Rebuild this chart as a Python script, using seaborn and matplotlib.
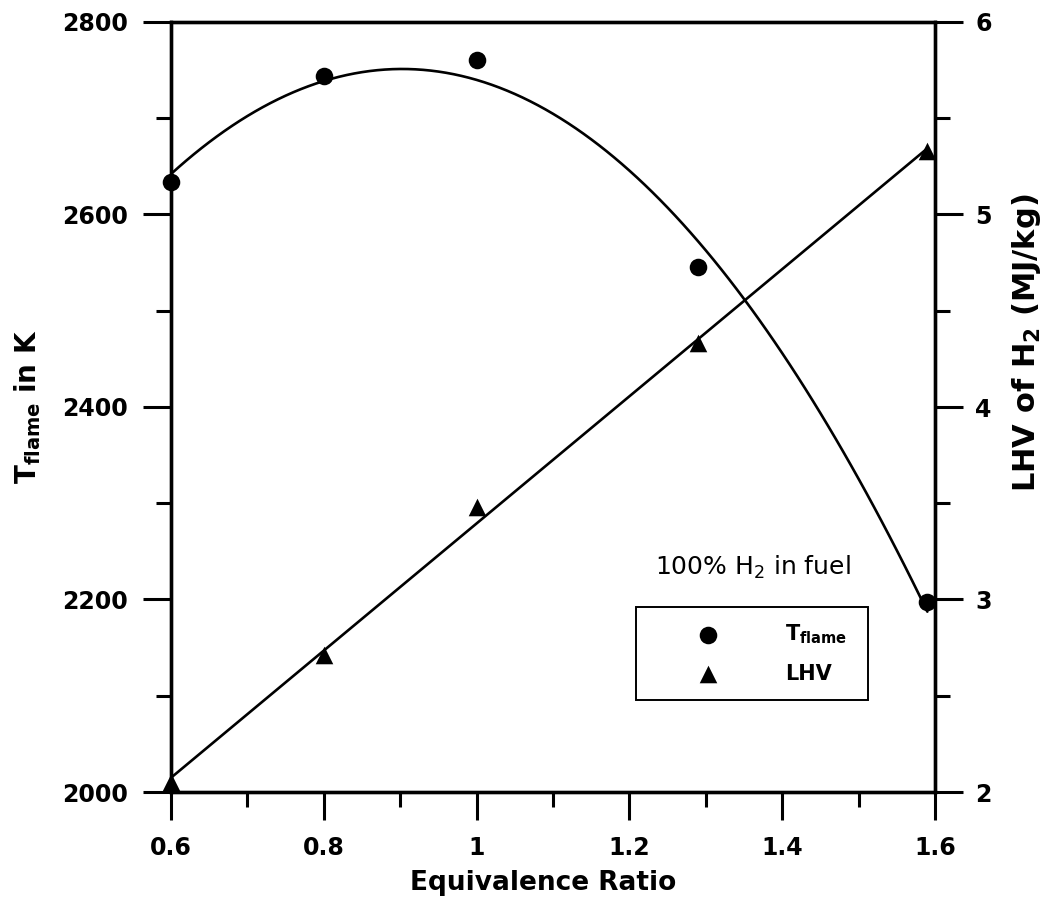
import numpy as np
import matplotlib
matplotlib.use("Agg")
import matplotlib.pyplot as plt
import matplotlib.ticker as mticker
import seaborn as sns

# Equivalence ratio and measured quantities
phi = [0.6, 0.8, 1.0, 1.29, 1.59]
t_flame = [2634, 2744, 2760, 2545, 2197]   # K
lhv = [2.05, 2.71, 3.48, 4.33, 5.33]       # MJ/kg

x_ticks = [0.6, 0.8, 1.0, 1.2, 1.4, 1.6]
x_tick_labels = ["0.6", "0.8", "1", "1.2", "1.4", "1.6"]
t_ticks = [2000, 2200, 2400, 2600, 2800]
lhv_ticks = [2, 3, 4, 5, 6]

sns.set_theme(style="white")
plt.rcParams["font.family"] = ["DejaVu Sans"]
plt.rcParams["mathtext.fontset"] = "dejavusans"
for key in ("text.color", "axes.labelcolor", "xtick.color", "ytick.color",
            "axes.edgecolor"):
    plt.rcParams[key] = "black"

fig = plt.figure(figsize=(10.47, 9.05), dpi=100)
ax = fig.add_axes([171 / 1047, 1 - 792 / 905, 764 / 1047, 770 / 905])
ax2 = ax.twinx()

# Flame temperature with a quadratic trend, LHV with a linear trend
sns.regplot(x=phi, y=t_flame, order=2, ci=None, truncate=True, ax=ax,
            marker="o", color="black",
            scatter_kws=dict(s=160, alpha=1, linewidths=0, zorder=3, clip_on=False),
            line_kws=dict(color="black", lw=1.9))
sns.regplot(x=phi, y=lhv, order=1, ci=None, truncate=True, ax=ax2,
            marker="^", color="black",
            scatter_kws=dict(s=160, alpha=1, linewidths=0, zorder=3, clip_on=False),
            line_kws=dict(color="black", lw=1.9))

ax.set_xlim(0.6, 1.6)
ax.set_ylim(2000, 2800)
ax2.set_ylim(2, 6)
ax.set_xticks(x_ticks)
ax.set_xticklabels(x_tick_labels)
ax.xaxis.set_minor_locator(mticker.MultipleLocator(0.1))
ax.set_yticks(t_ticks)
ax.yaxis.set_minor_locator(mticker.MultipleLocator(100))
ax2.set_yticks(lhv_ticks)
ax2.yaxis.set_minor_locator(mticker.MultipleLocator(0.5))

for a in (ax, ax2):
    for sp in a.spines.values():
        sp.set_visible(True)
        sp.set_color("black")
        sp.set_linewidth(2.4)
    a.tick_params(which="major", direction="out", length=20, width=2.2,
                  color="black", labelsize=17)
    a.tick_params(which="minor", direction="out", length=11, width=2.2,
                  color="black")
    for lab in a.get_xticklabels() + a.get_yticklabels():
        lab.set_fontweight("bold")

ax.tick_params(axis="x", which="both", bottom=True, top=False, pad=12)
ax.tick_params(axis="y", which="both", left=True, right=False, pad=11)
ax2.tick_params(axis="y", which="both", right=True, left=False, pad=9)

ax.set_xlabel("Equivalence Ratio", fontsize=19, fontweight="bold", labelpad=7)
ax.xaxis.label.set_x(0.487)
ax.set_ylabel(r"$\mathbf{T}_{\mathbf{flame}}$ in K", fontsize=20,
              fontweight="bold", labelpad=14)
ax2.set_ylabel(r"LHV of H$_\mathbf{2}$ (MJ/kg)", fontsize=22,
               fontweight="bold", labelpad=13)
ax2.yaxis.label.set_y(0.583)

ax2.text(0.762, 0.292, r"100% H$_2$ in fuel", transform=ax2.transAxes,
         ha="center", va="center", fontsize=18)

handles = [ax.collections[0], ax2.collections[0]]
leg_top = 1 - (607 - 22) / 770
leg = ax2.legend(handles, [r"$\mathbf{T}_{\mathbf{flame}}$", "LHV"],
                 loc="upper left",
                 bbox_to_anchor=((636 - 171) / 764, leg_top - 0.05,
                                 232 / 764, 0.05),
                 mode="expand", borderaxespad=0, frameon=True, fancybox=False,
                 edgecolor="black", framealpha=1, handlelength=5.42,
                 handletextpad=1.0, borderpad=0.75, labelspacing=0.85,
                 prop=dict(size=15, weight="bold"), scatterpoints=1)
leg.get_frame().set_linewidth(1.4)

fig.savefig("out.png", dpi=100)
